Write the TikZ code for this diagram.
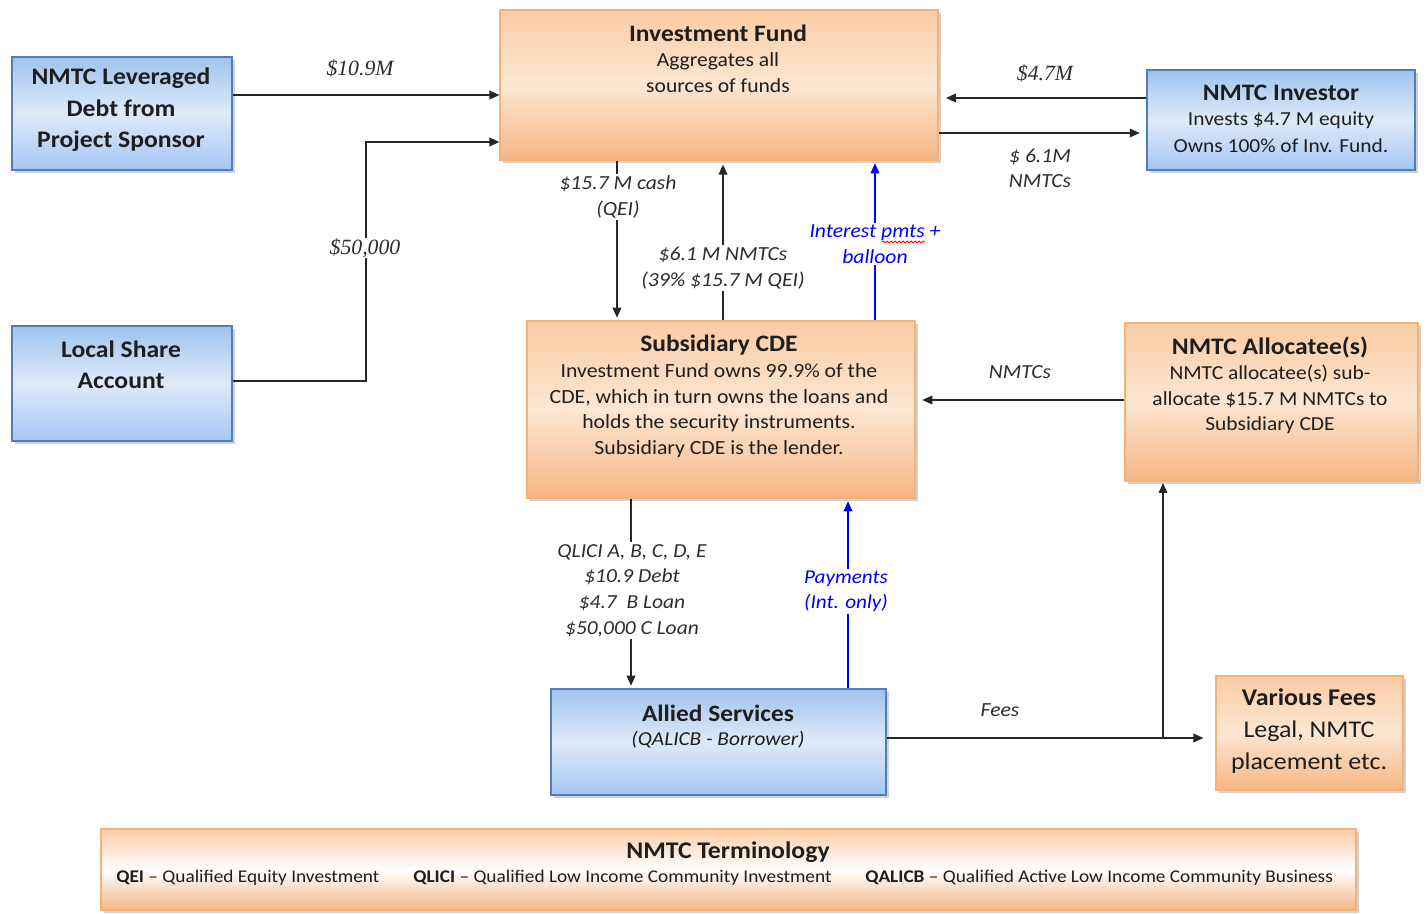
\documentclass[tikz,border=0pt]{standalone}
\usepackage{fontspec}
\setmainfont{Carlito}[FakeStretch=1.08]
\newfontfamily\tnr{Liberation Serif}
\usetikzlibrary{arrows.meta,shadows,fit,decorations.pathmorphing}
\definecolor{bluebd}{RGB}{80,125,190}
\definecolor{blueT}{RGB}{158,196,238}
\definecolor{blueM}{RGB}{222,234,250}
\definecolor{blueB}{RGB}{165,198,243}
\definecolor{orbd}{RGB}{242,178,120}
\definecolor{orT}{RGB}{250,204,165}
\definecolor{orM}{RGB}{253,230,210}
\definecolor{orB}{RGB}{245,182,132}
\definecolor{txtc}{RGB}{30,30,30}
\definecolor{labc}{RGB}{45,45,45}
\begin{document}
\begin{tikzpicture}[x=0.75pt,y=-0.75pt,
  base/.style={inner sep=0pt, drop shadow={shadow xshift=2.5pt, shadow yshift=-2.5pt, fill=black!40, opacity=0.45}},
  bluebox/.style={base, draw=bluebd, line width=0.9pt, top color=blueT, bottom color=blueB, middle color=blueM},
  orbox/.style={base, draw=orbd, line width=0.9pt, top color=orT, bottom color=orB, middle color=orM},
  termbox/.style={base, draw=orbd, line width=0.9pt, top color=orT, bottom color=orB, middle color=white},
  txt/.style={align=center, text=txtc, inner sep=0pt},
  arr/.style={line width=1.1pt, draw=black!85, -{Triangle[length=7.5pt,width=6.5pt]}},
  barr/.style={line width=1.1pt, draw=blue, -{Triangle[length=7.5pt,width=6.5pt]}},
  lab/.style={fill=white, inner sep=1.5pt, align=center, text=labc, font=\fontsize{15}{19}\selectfont\itshape},
  tlab/.style={inner sep=1pt, text=labc, font=\tnr\fontsize{16.3}{18}\selectfont\itshape},
  blab/.style={lab, text=blue},
]
\useasboundingbox (0,0) rectangle (1426,913);

% boxes
\node[bluebox, fit={(12,57) (232,170)}] (lev) {};
\node[bluebox, fit={(12,326) (232,441)}] (local) {};
\node[orbox, fit={(500,10) (938,160)}] (fund) {};
\node[bluebox, fit={(1147,70) (1415,170)}] (inv) {};
\node[orbox, fit={(527,321) (915,498)}] (cde) {};
\node[orbox, fit={(1125,323) (1418,481)}] (alloc) {};
\node[bluebox, fit={(551,689) (886,795)}] (allied) {};
\node[orbox, fit={(1216,676) (1403,790)}] (fees) {};
\node[termbox, fit={(101,829) (1356,910)}] (term) {};

% box texts
\node[txt, font=\fontsize{17.8}{23.6}\selectfont\bfseries] (levt) at (121,110) {NMTC Leveraged\\Debt from\\Project Sponsor};
\node[txt, font=\fontsize{17.8}{23.6}\selectfont\bfseries] (localt) at (121,365) {Local Share\\Account};
\node[txt, font=\fontsize{17.7}{20}\selectfont\bfseries] (fundt) at (718,33) {Investment Fund};
\node[txt, font=\fontsize{15}{19.5}\selectfont] (fundb) at (718,73) {Aggregates all\\sources of funds};
\node[txt, font=\fontsize{17.7}{20}\selectfont\bfseries] (invt) at (1281,93) {NMTC Investor};
\node[txt, font=\fontsize{14.9}{20}\selectfont] (invb) at (1281,132.5) {Invests \$4.7 M equity\\Owns 100\% of Inv. Fund.};
\node[txt, font=\fontsize{17.7}{20}\selectfont\bfseries] (cdet) at (719,345) {Subsidiary CDE};
\node[txt, font=\fontsize{15.1}{19.3}\selectfont] (cdeb) at (719,410.5) {Investment Fund owns 99.9\% of the\\CDE, which in turn owns the loans and\\holds the security instruments.\\Subsidiary CDE is the lender.};
\node[txt, font=\fontsize{17.8}{20}\selectfont\bfseries] (alloct) at (1270,347) {NMTC Allocatee(s)};
\node[txt, font=\fontsize{14.9}{19.1}\selectfont] (allocb) at (1270,399.5) {NMTC allocatee(s) sub-\\allocate \$15.7 M NMTCs to\\Subsidiary CDE};
\node[txt, font=\fontsize{17.6}{20}\selectfont\bfseries] (alliedt) at (718,713) {Allied Services};
\node[txt, font=\fontsize{14.8}{18}\selectfont\itshape] (alliedb) at (718,740) {(QALICB - Borrower)};
\node[txt, font=\fontsize{18}{24}\selectfont] (feest) at (1309,731) {\textbf{Various Fees}\\Legal, NMTC\\placement etc.};
\node[txt, font=\fontsize{17.9}{20}\selectfont\bfseries] (termt) at (728,852) {NMTC Terminology};
\node[txt, anchor=west, font=\fontsize{13.4}{15}\selectfont] (qei) at (116,878) {\textbf{QEI} -- Qualified Equity Investment};
\node[txt, anchor=west, font=\fontsize{13.4}{15}\selectfont] (qlici) at (413,878) {\textbf{QLICI} -- Qualified Low Income Community Investment};
\node[txt, anchor=west, font=\fontsize{13.4}{15}\selectfont] (qalicb) at (865,878) {\textbf{QALICB} -- Qualified Active Low Income Community Business};

% connectors
\draw[arr] (lev.east |- 0,95) -- (fund.west |- 0,95);
\draw[arr] (local.east |- 0,381) -| (366,142) -- (fund.west |- 0,142);
\node[tlab, fill=white, inner sep=0pt] (l50) at (365,248) {\$50,000};
\node[tlab] (l109) at (360,68) {\$10.9M};

\draw[arr] (inv.west |- 0,98) -- ([xshift=5.5pt]fund.east |- 0,98);
\node[tlab] (l47) at (1045,73) {\$4.7M};
\draw[arr] (fund.east |- 0,133) -- ([xshift=-5pt]inv.west |- 0,133);
\node[lab, fill=none] (l61) at (1040,168) {\$ 6.1M\\NMTCs};

\draw[arr] (fund.south -| 617,0) -- ([yshift=2pt]cde.north -| 617,0);
\node[lab] (lqei) at (618,197) {\$15.7 M cash\\(QEI)};

\draw[arr] (cde.north -| 723,0) -- ([yshift=-3pt]fund.south -| 723,0);
\node[lab] (lnm) at (723,268) {\$6.1 M NMTCs\\(39\% \$15.7 M QEI)};

\draw[barr] (cde.north -| 875,0) -- ([yshift=-2pt]fund.south -| 875,0);
\node[blab] (lint) at (875,244) {Interest pmts +\\balloon};
\draw[red, line width=0.6pt, decorate, decoration={snake, amplitude=0.7pt, segment length=3pt}] (882,242) -- (925,242);

\draw[arr] (alloc.west |- 0,400) -- ([xshift=5pt]cde.east |- 0,400);
\node[lab, fill=none] (lnmtc) at (1020,372) {NMTCs};

\draw[arr] (cde.south -| 631,0) -- ([yshift=2pt]allied.north -| 631,0);
\node[lab, font=\fontsize{14.9}{19.2}\selectfont\itshape] (lqlici) at (632,590.5) {QLICI A, B, C, D, E\\\$10.9 Debt\\\$4.7~~B Loan\\\$50,000 C Loan};

\draw[barr] (allied.north -| 848,0) -- ([yshift=-2pt]cde.south -| 848,0);
\node[blab, font=\fontsize{14.7}{19}\selectfont\itshape] (lpay) at (846,591.5) {Payments\\(Int. only)};

\draw[arr] (allied.east |- 0,738) -- ([xshift=-9pt]fees.west |- 0,738);
\node[lab, fill=none] (lfees) at (1000,710) {Fees};
\coordinate (fb) at (1163,738);
\draw[arr] (fb) -- ([yshift=-1pt]fb |- alloc.south);
\end{tikzpicture}
\end{document}
